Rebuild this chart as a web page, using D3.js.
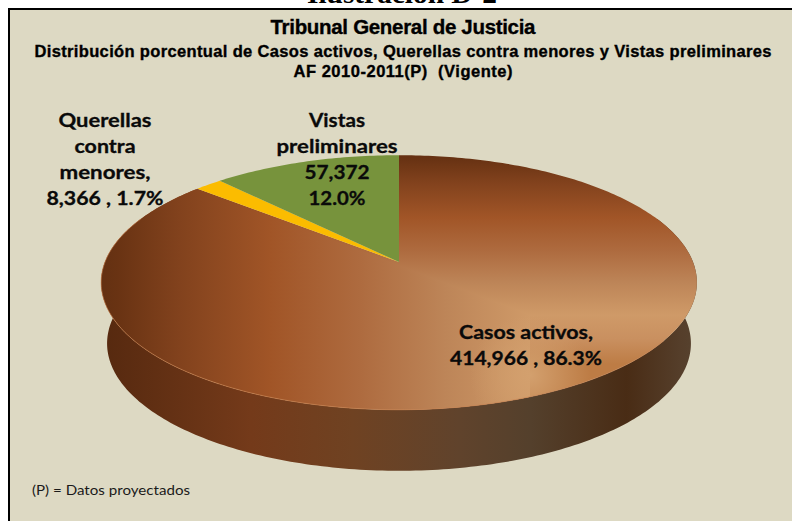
<!DOCTYPE html>
<html>
<head>
<meta charset="utf-8">
<script src="https://cdn.jsdelivr.net/npm/d3@7"></script>
<style>
html, body { margin: 0; padding: 0; background: #fff; }
svg { display: block; }
</style>
</head>
<body>
<div id="chart"></div>
<script>
const categories = ["Casos activos", "Querellas contra menores", "Vistas preliminares"];
const values = [414966, 8366, 57372];
const sliceColors = [null, "#fbbc00", "#77933c"];
const titleLines = [
    "Tribunal General de Justicia",
    "Distribución porcentual de Casos activos, Querellas contra menores y Vistas preliminares",
    "AF 2010-2011(P)  (Vigente)"
];
const casosLabel = ["Casos activos,", "414,966 , 86.3%"];
const querellasLabel = ["Querellas", "contra", "menores,", "8,366 , 1.7%"];
const vistasLabel = ["Vistas", "preliminares", "57,372", "12.0%"];

const width = 792, height = 521;

let svg = d3.select("#chart").append("svg")
    .attr("width", width)
    .attr("height", height);

let defs = svg.append("defs");

function addGradient(id, x1, y1, x2, y2, stops) {
    let g = defs.append("linearGradient")
        .attr("id", id)
        .attr("gradientUnits", "userSpaceOnUse")
        .attr("x1", x1).attr("y1", y1)
        .attr("x2", x2).attr("y2", y2);
    stops.forEach(s => {
        g.append("stop").attr("offset", s[0]).attr("stop-color", s[1]);
    });
}

// the top face is a mitred gradient: light ridge at (530,315), vertical ramp on the
// right side and the same ramp running horizontally on the left side
const ramp = [[0, "#653112"], [0.03, "#693313"], [0.175, "#82421d"], [0.39, "#a15527"], [0.6, "#ae6b3f"], [0.8, "#bd8558"], [1, "#cf9a68"]];
addGradient("topV", 0, 155, 0, 410, ramp.map(s => [s[0] * 0.627, s[1]])
    .concat([[0.72, "#c99060"], [0.82, "#bd7c45"], [1, "#bd7c45"]]));
addGradient("topH", 105, 0, 530, 0, ramp);
addGradient("sideGrad", 102, 0, 698, 0, [[0, "#56290f"], [0.25, "#743a1a"], [0.42, "#6f4222"], [0.6, "#60432c"], [0.72, "#54402c"], [0.88, "#492c15"], [0.97, "#553e2a"], [1, "#57432f"]]);

let shine = defs.append("radialGradient")
    .attr("id", "shine")
    .attr("gradientUnits", "userSpaceOnUse")
    .attr("cx", 530).attr("cy", 375).attr("r", 60);
shine.append("stop").attr("offset", 0).attr("stop-color", "#d3a06e").attr("stop-opacity", 1);
shine.append("stop").attr("offset", 1).attr("stop-color", "#d3a06e").attr("stop-opacity", 0);

// frame
svg.append("rect").attr("x", 9).attr("y", 9).attr("width", width).attr("height", height)
    .attr("fill", "#ddd9c3").attr("stroke", "#000").attr("stroke-width", 2);

// clipped heading above the frame
svg.append("text")
    .attr("x", 402).attr("y", 3)
    .attr("text-anchor", "middle")
    .style("font-family", "'Liberation Serif'")
    .style("font-weight", "bold")
    .style("font-size", "27px")
    .attr("textLength", 190)
    .attr("lengthAdjust", "spacingAndGlyphs")
    .text("Ilustración D-2");

// perspective disc: the centre of the circle sits above the centre of the ellipse
const persp = -0.1608;
const xScale = d3.scaleLinear().domain([-1, 1]).range([105, 693]);
const yScale = d3.scaleLinear().domain([-1, 1]).range([138, 386]);

function project(r, theta, shrink, drop) {
    let u = r * Math.sin(theta);
    let v = -r * Math.cos(theta);
    let w = 1 + persp * v;
    let x = xScale(u / w * shrink);
    let y = yScale(v / w) + drop;
    return [x, y];
}

const line = d3.line();
const rimSteps = d3.range(0, 241);

// side wall
const sideFrom = Math.PI * 0.38, sideTo = Math.PI * 1.62;
let sideAngle = d3.scaleLinear().domain([0, 240]).range([sideFrom, sideTo]);
let sidePts = rimSteps.map(i => project(1, sideAngle(i), 1, 0))
    .concat(rimSteps.slice().reverse().map(i => project(1, sideAngle(i), 0.98, 61)));
svg.append("path")
    .attr("d", line(sidePts) + "Z")
    .attr("fill", "url(#sideGrad)");

// slices
let pie = d3.pie().sort(null).value(d => d).startAngle(0).endAngle(2 * Math.PI);
let arcs = pie(values);

function slicePoints(a) {
    let n = Math.max(4, Math.ceil((a.endAngle - a.startAngle) * 60));
    let ang = d3.scaleLinear().domain([0, n]).range([a.startAngle, a.endAngle]);
    return [project(0, 0, 1, 0)].concat(d3.range(0, n + 1).map(i => project(1, ang(i), 1, 0)));
}

svg.selectAll("path.slice")
    .data(arcs)
    .enter()
    .append("path")
    .attr("class", "slice")
    .attr("d", d => line(slicePoints(d)) + "Z")
    .attr("fill", (d, i) => sliceColors[i] || "url(#topV)");

// left part of the big slice, cut along the mitre lines of the gradient
const casosPath = line(slicePoints(arcs[0])) + "Z";
defs.append("clipPath").attr("id", "casosClip").append("path").attr("d", casosPath);
let casosOverlay = svg.append("g").attr("clip-path", "url(#casosClip)");
casosOverlay.append("path")
    .attr("d", "M530,315L105,155L0,115V521H530Z")
    .attr("fill", "url(#topH)");
casosOverlay.append("rect")
    .attr("x", 470).attr("y", 315).attr("width", 120).attr("height", 110)
    .attr("fill", "url(#shine)");

// thin light rim along the front edge
svg.append("path")
    .attr("d", line(rimSteps.filter(i => i > 60).map(i => project(1, sideAngle(i), 1, 0))))
    .attr("fill", "none")
    .attr("stroke", "#c98354")
    .attr("stroke-opacity", 0.6)
    .attr("stroke-width", 1);

// title
let titleY = [34, 56.5, 77];
let titleSize = [20.5, 16.5, 16.5];
let titleLen = [265, 737, 219];
svg.selectAll("text.title")
    .data(titleLines)
    .enter()
    .append("text")
    .attr("class", "title")
    .attr("x", 403)
    .attr("y", (d, i) => titleY[i])
    .attr("text-anchor", "middle")
    .attr("textLength", (d, i) => titleLen[i])
    .attr("lengthAdjust", "spacing")
    .attr("xml:space", "preserve")
    .style("font-family", "'Liberation Sans Narrow', 'Liberation Sans'")
    .style("font-weight", "bold")
    .style("font-size", (d, i) => titleSize[i] + "px")
    .style("stroke", "#000")
    .style("stroke-width", 0.35)
    .text(d => d);

function drawLabel(lines, cx, ys, lens) {
    svg.append("g").selectAll("text")
        .data(lines)
        .enter()
        .append("text")
        .attr("x", cx)
        .attr("y", (d, i) => ys[i])
        .attr("text-anchor", "middle")
        .attr("textLength", (d, i) => lens[i])
        .attr("lengthAdjust", "spacingAndGlyphs")
        .style("font-family", "Lato, 'Open Sans'")
        .style("font-weight", "bold")
        .style("font-size", "19px")
        .style("fill", "#0a0a0a")
        .style("stroke", "#0a0a0a")
        .style("stroke-width", 0.3)
        .text(d => d);
}

drawLabel(querellasLabel, 105, [127, 153, 179, 205], [93, 61, 91, 117]);
drawLabel(vistasLabel, 337, [127, 153, 179, 205], [56, 121, 65, 57]);
drawLabel(casosLabel, 526, [339, 365], [134, 152]);

// footnote
svg.append("text")
    .attr("x", 32).attr("y", 495)
    .attr("textLength", 158)
    .attr("lengthAdjust", "spacingAndGlyphs")
    .style("font-family", "Lato, 'Open Sans'")
    .style("font-size", "13px")
    .style("fill", "#1a1a1a")
    .text("(P) = Datos proyectados");
</script>
</body>
</html>
